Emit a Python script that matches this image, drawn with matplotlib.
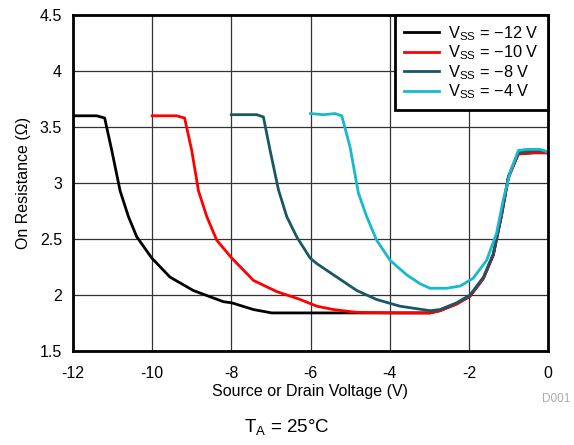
import matplotlib
matplotlib.use("Agg")
import matplotlib.pyplot as plt

plt.rcParams['font.family'] = ['Liberation Sans', 'DejaVu Sans']
plt.rcParams['mathtext.fontset'] = 'custom'
plt.rcParams['mathtext.rm'] = 'Liberation Sans'

# Data
x_m12 = [-12.0, -11.40, -11.20, -11.02, -10.81, -10.60, -10.39, -10.01, -9.55, -8.96, -8.20, -7.99,
         -7.44, -6.98, -6.0, -5.0, -4.0, -3.3, -2.98, -2.73, -2.31, -1.97, -1.63, -1.38, -1.17,
         -1.0, -0.75, -0.37, 0.0]
r_m12 = [3.60, 3.60, 3.58, 3.29, 2.93, 2.70, 2.52, 2.33, 2.16, 2.04, 1.94, 1.93,
         1.87, 1.84, 1.84, 1.84, 1.84, 1.84, 1.84, 1.86, 1.92, 1.99, 2.15, 2.36, 2.72,
         3.05, 3.26, 3.27, 3.27]

x_m10 = [-10.0, -9.38, -9.18, -9.0, -8.83, -8.62, -8.37, -7.99, -7.44, -6.85, -6.26, -5.84,
         -5.42, -4.83, -3.74, -2.98, -2.73, -2.31, -1.97, -1.63, -1.38, -1.17, -1.0, -0.75,
         -0.37, 0.0]
r_m10 = [3.60, 3.60, 3.58, 3.29, 2.93, 2.70, 2.49, 2.33, 2.13, 2.03, 1.96, 1.90,
         1.87, 1.845, 1.84, 1.84, 1.86, 1.92, 1.99, 2.15, 2.36, 2.72, 3.05, 3.26,
         3.27, 3.27]

x_m8 = [-8.0, -7.36, -7.19, -7.02, -6.81, -6.60, -6.35, -6.01, -5.84, -5.42, -4.83, -4.33,
        -3.74, -2.98, -2.73, -2.31, -1.97, -1.63, -1.38, -1.17, -1.0, -0.75, -0.37, -0.2, 0.0]
r_m8 = [3.61, 3.61, 3.59, 3.29, 2.94, 2.70, 2.52, 2.33, 2.28, 2.18, 2.04, 1.96,
        1.90, 1.86, 1.87, 1.93, 2.00, 2.16, 2.37, 2.73, 3.06, 3.27, 3.29, 3.29, 3.28]

x_m4 = [-6.0, -5.67, -5.38, -5.21, -5.0, -4.79, -4.58, -4.33, -3.99, -3.57, -3.23, -2.98,
        -2.56, -2.22, -1.89, -1.55, -1.30, -1.13, -0.96, -0.75, -0.54, -0.2, -0.03]
r_m4 = [3.62, 3.61, 3.62, 3.60, 3.32, 2.91, 2.70, 2.49, 2.31, 2.18, 2.10, 2.06,
        2.06, 2.08, 2.15, 2.31, 2.55, 2.85, 3.09, 3.29, 3.30, 3.30, 3.28]

labels = ['V$_\\mathregular{SS}$ = \u221212 V', 'V$_\\mathregular{SS}$ = \u221210 V',
          'V$_\\mathregular{SS}$ = \u22128 V', 'V$_\\mathregular{SS}$ = \u22124 V']
colors = ['#000000', '#ff0000', '#1a5766', '#17b9cc']

x_ticks = [-12, -10, -8, -6, -4, -2, 0]
x_ticklabels = ['-12', '-10', '-8', '-6', '-4', '-2', '0']
y_ticks = [1.5, 2, 2.5, 3, 3.5, 4, 4.5]
y_ticklabels = ['1.5', '2', '2.5', '3', '3.5', '4', '4.5']

fig = plt.figure(figsize=(5.74, 4.45), dpi=100)
ax = fig.add_axes([73/574, 1-351/445, (548-73)/574, (351-15)/445])

series = [(x_m12, r_m12), (x_m10, r_m10), (x_m8, r_m8), (x_m4, r_m4)]
for (xs, ys), c, lab in zip(series, colors, labels):
    ax.plot(xs, ys, color=c, lw=2.0, label=lab, solid_joinstyle='round')

ax.set_xlim(-12, 0)
ax.set_ylim(1.5, 4.5)
ax.set_xticks(x_ticks)
ax.set_xticklabels(x_ticklabels)
ax.set_yticks(y_ticks)
ax.set_yticklabels(y_ticklabels)
ax.tick_params(length=0, labelsize=11.5)
ax.tick_params(axis='x', pad=11)
ax.tick_params(axis='y', pad=8)
ax.grid(True, color='#333333', lw=0.9)
ax.set_axisbelow(True)
for s in ax.spines.values():
    s.set_linewidth(2.0)

ax.set_xlabel('Source or Drain Voltage (V)', fontsize=11.5, labelpad=2)
ax.set_ylabel('On Resistance (\u03a9)', fontsize=11.5, labelpad=6)

leg = ax.legend(loc='upper right', fontsize=11.8, frameon=True, fancybox=False,
                borderaxespad=0.0, handlelength=2.1, labelspacing=0.05,
                borderpad=0.55, handletextpad=0.6)
leg.get_frame().set_edgecolor('black')
leg.get_frame().set_linewidth(2.0)
leg.get_frame().set_alpha(1.0)

fig.text(556/574, 1-399/445, 'D001', fontsize=8.5, color='#aaaaaa', ha='center', va='center')
fig.text(0.5, 1-428/445, 'T$_\\mathregular{A}$ = 25\u00b0C', fontsize=13.5, ha='center', va='center')

fig.savefig('out.png', dpi=100)
